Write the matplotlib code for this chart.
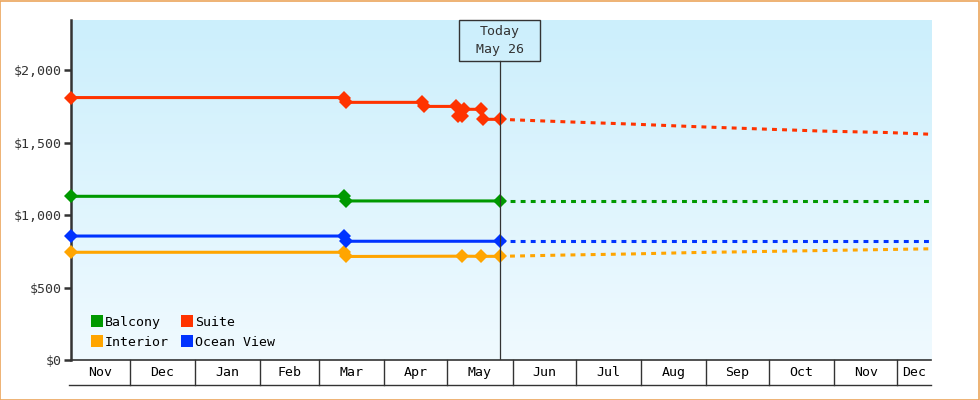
#!/usr/bin/env python3
"""Cabin price history and forecast chart (Nov - Dec), saved as out.png"""

from datetime import datetime
import numpy as np
import matplotlib
matplotlib.use('Agg')
import matplotlib.pyplot as plt
import matplotlib.dates as mdates
import matplotlib.transforms as mtransforms
from matplotlib.patches import Rectangle
from matplotlib.lines import Line2D

# ---- data -------------------------------------------------------------
start_date = "2022-11-03"
end_date = "2023-12-17"
today_date = "2023-05-26"

suite_dates = ["2022-11-03", "2023-03-13", "2023-03-14", "2023-04-19", "2023-04-20",
               "2023-05-05", "2023-05-06", "2023-05-08", "2023-05-09", "2023-05-17",
               "2023-05-18", "2023-05-26"]
suite_prices = [1810, 1810, 1777, 1777, 1749, 1749, 1685, 1685, 1729, 1729, 1660, 1660]

balcony_dates = ["2022-11-03", "2023-03-13", "2023-03-14", "2023-05-26"]
balcony_prices = [1129, 1129, 1097, 1097]

ocean_dates = ["2022-11-03", "2023-03-13", "2023-03-14", "2023-05-26"]
ocean_prices = [855, 855, 819, 819]

interior_dates = ["2022-11-03", "2023-03-13", "2023-03-14", "2023-05-08", "2023-05-17", "2023-05-26"]
interior_prices = [743, 743, 714, 716, 715, 715]

forecast_dates = ["2023-05-26", "2023-06-26", "2023-07-26", "2023-08-26", "2023-09-26",
                  "2023-10-26", "2023-11-26", "2023-12-17"]
suite_forecast = [1660, 1643, 1628, 1610, 1594, 1579, 1569, 1557]
balcony_forecast = [1097, 1097, 1097, 1097, 1097, 1097, 1097, 1097]
ocean_forecast = [819, 819, 819, 819, 819, 819, 819, 819]
interior_forecast = [715, 724, 731, 741, 748, 755, 762, 767]

y_ticks = [0, 500, 1000, 1500, 2000]
y_max = 2345

COLORS = {
    'Balcony': '#009900',
    'Interior': '#ffa500',
    'Suite': '#ff3300',
    'Ocean View': '#0033ff',
}
DARK = '#333333'
FONT = 'DejaVu Sans Mono'


def to_num(dates):
    return mdates.date2num([datetime.strptime(d, "%Y-%m-%d") for d in dates])


def main():
    plt.rcParams['font.family'] = FONT
    fig = plt.figure(figsize=(9.8, 4.0), dpi=100)
    fig.patch.set_facecolor('white')

    # orange outer border
    fig.add_artist(Rectangle((0.0005, 0.001), 0.998, 0.997, transform=fig.transFigure,
                             fill=False, edgecolor='#eba55c', linewidth=1.2))

    ax = fig.add_axes([71 / 980, 40 / 400, 860 / 980, 340 / 400])

    x0, x1 = to_num([start_date, end_date])
    today = to_num([today_date])[0]

    # background gradient
    top = np.array([0xcc, 0xef, 0xfc]) / 255
    bottom = np.array([0xf0, 0xfa, 0xff]) / 255
    t = np.linspace(0, 1, 256)[:, None]
    grad = (top * (1 - t) + bottom * t)[:, None, :]
    ax.imshow(grad, extent=(0, 1, 0, 1), transform=ax.transAxes,
              aspect='auto', zorder=0, interpolation='bilinear')

    series = [
        ('Balcony', balcony_dates, balcony_prices, balcony_forecast),
        ('Interior', interior_dates, interior_prices, interior_forecast),
        ('Suite', suite_dates, suite_prices, suite_forecast),
        ('Ocean View', ocean_dates, ocean_prices, ocean_forecast),
    ]
    fc_x = to_num(forecast_dates)
    for name, dates, prices, forecast in series:
        c = COLORS[name]
        ax.plot(fc_x, forecast, color=c, linewidth=2.2,
                linestyle=(0, (1.6, 1.7)), zorder=3, dash_capstyle='butt')
        ax.plot(to_num(dates), prices, color=c, linewidth=2.2, marker='D',
                markersize=7, markeredgewidth=0, zorder=4, clip_on=False)

    ax.set_xlim(x0, x1)
    ax.set_ylim(0, y_max)

    # spines
    for s in ['top', 'right']:
        ax.spines[s].set_visible(False)
    ax.spines['left'].set_color(DARK)
    ax.spines['left'].set_linewidth(1.8)
    ax.spines['bottom'].set_color(DARK)
    ax.spines['bottom'].set_linewidth(1.2)

    ax.set_yticks(y_ticks)
    ax.set_yticklabels([f"${v:,}" for v in y_ticks])
    ax.tick_params(axis='y', length=5, width=1.8, color=DARK, labelcolor=DARK,
                   labelsize=9.5, pad=2)
    ax.set_xticks([])

    # month cells under the axis
    blend = mtransforms.blended_transform_factory(ax.transData, ax.transAxes)
    cell_h = 25 / 340
    bounds = [x0]
    d = datetime(2022, 12, 1)
    while mdates.date2num(d) < x1:
        bounds.append(mdates.date2num(d))
        d = datetime(d.year + (d.month == 12), d.month % 12 + 1, 1)
    bounds.append(x1)
    for b in bounds[1:-1]:
        ax.add_line(Line2D([b, b], [0, -cell_h], transform=blend, color=DARK,
                           linewidth=1.0, clip_on=False))
    ax.add_line(Line2D([x0 - 1, x1], [-cell_h, -cell_h], transform=blend, color=DARK,
                       linewidth=1.0, clip_on=False))
    for a, b in zip(bounds[:-1], bounds[1:]):
        label = mdates.num2date(a).strftime('%b')
        ax.text((a + b) / 2, -cell_h / 2, label, transform=blend, ha='center',
                va='center', fontsize=9.5, color='black')

    # today marker
    px_per_day = 860 / (x1 - x0)
    box_w = 81 / px_per_day
    box_h = 41 / 340
    ax.add_line(Line2D([today, today], [0, 1 - box_h], transform=blend, color=DARK,
                       linewidth=0.9, zorder=5))
    ax.add_patch(Rectangle((today - box_w / 2, 1 - box_h), box_w, box_h, transform=blend,
                           fill=False, edgecolor=DARK, linewidth=1.0, zorder=5, clip_on=False))
    ax.text(today, 1 - box_h / 2, "Today\n" + datetime.strptime(today_date, "%Y-%m-%d").strftime('%b %d'),
            transform=blend, ha='center', va='center', fontsize=9.5, color=DARK,
            linespacing=1.4, zorder=6)

    # legend
    handles = [Line2D([], [], linestyle='none', marker='s', markersize=8,
                      markerfacecolor=COLORS[n], markeredgewidth=0, label=n)
               for n, _, _, _ in series]
    ax.legend(handles=handles, ncol=2, loc='lower left', bbox_to_anchor=(0.015, 0.01),
              frameon=False, fontsize=9.5, handlelength=0.8, handletextpad=0.2,
              columnspacing=1.0, labelspacing=0.5, borderaxespad=0.2)

    fig.savefig('out.png', dpi=100)


if __name__ == "__main__":
    main()
